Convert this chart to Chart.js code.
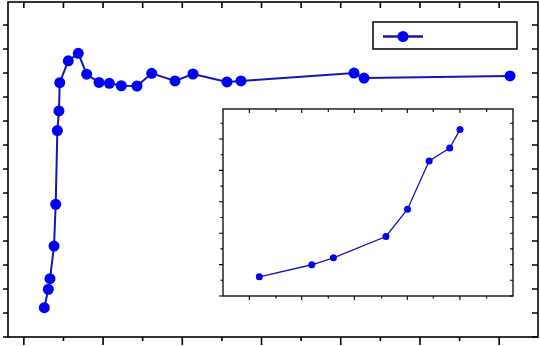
<!DOCTYPE html>
<html>
<head>
<meta charset="utf-8">
<script src="https://cdn.jsdelivr.net/npm/chart.js@4/dist/chart.umd.min.js"></script>
<style>
    html, body { margin: 0; padding: 0; background: #fff; }
    #wrap { position: relative; width: 540px; height: 346px; }
    #main { position: absolute; left: 0; top: 0; }
    #inset { position: absolute; left: 213px; top: 103px; }
</style>
</head>
<body>
<div id="wrap">
    <canvas id="main" width="540" height="346"></canvas>
    <canvas id="inset" width="310" height="203"></canvas>
</div>
<script>
// series
const series_x = [2.58, 3.09, 3.30, 3.81, 4.02, 4.23, 4.43, 4.53, 5.61, 6.87, 7.93, 9.49,
    10.79, 12.30, 14.28, 16.14, 19.08, 21.35, 25.64, 27.41, 41.68, 42.94, 61.37];
const series_y = [1.22, 1.99, 2.43, 3.79, 5.53, 8.60, 9.42, 10.60, 11.51, 11.82, 10.95, 10.61,
    10.57, 10.47, 10.46, 10.99, 10.67, 10.96, 10.63, 10.67, 11.00, 10.79, 10.88];

// the inset zooms on the first points of the same series
const inset_count = 8;

// tick values (no labels are printed)
const main_x_ticks = [0, 5, 10, 15, 20, 25, 30, 35, 40, 45, 50, 55, 60];
const main_y_ticks = [0, 1, 2, 3, 4, 5, 6, 7, 8, 9, 10, 11, 12, 13];
const inset_x_ticks = [2.483, 2.742, 2.992, 3.250, 3.503, 3.770, 4.018, 4.270, 4.529, 4.789];
const inset_y_ticks = [0, 1, 2, 3, 4, 5, 6, 7, 8, 9, 10, 11];

const line_colour = '#1616b4';
const point_colour = '#0000f5';

function points(n) {
    return series_x.slice(0, n).map((x, i) => ({ x: x, y: series_y[i] }));
}

// draws the box round the plot and the Origin style ticks
const framePlugin = {
    id: 'frame',
    beforeDraw(chart, args, o) {
        if (!o.fill) return;
        const a = chart.chartArea, ctx = chart.ctx;
        ctx.save();
        ctx.fillStyle = '#fff';
        ctx.fillRect(a.left, a.top, a.right - a.left, a.bottom - a.top);
        ctx.restore();
    },
    afterDatasetsDraw(chart, args, o) {
        const ctx = chart.ctx, a = chart.chartArea;
        const xs = chart.scales.x, ys = chart.scales.y;
        ctx.save();
        ctx.strokeStyle = '#000';
        ctx.lineWidth = o.tick_width;
        ctx.beginPath();
        o.x_ticks.forEach((v, i) => {
            const px = xs.getPixelForValue(v);
            const major = o.x_major(v, i);
            ctx.moveTo(px, a.bottom);
            ctx.lineTo(px, a.bottom + (major ? o.bottom[0] : o.bottom[1]));
            ctx.moveTo(px, a.top);
            ctx.lineTo(px, a.top + (major ? o.top[0] : o.top[1]));
        });
        o.y_ticks.forEach((v, i) => {
            const py = ys.getPixelForValue(v);
            const major = o.y_major(v, i);
            ctx.moveTo(a.left, py);
            ctx.lineTo(a.left - (major ? o.left[0] : o.left[1]), py);
            ctx.moveTo(a.right, py);
            ctx.lineTo(a.right - (major ? o.right[0] : o.right[1]), py);
        });
        ctx.stroke();
        ctx.lineWidth = o.frame_width;
        ctx.strokeRect(a.left, a.top, a.right - a.left, a.bottom - a.top);
        ctx.restore();
    }
};

// legend box with an empty label: line + marker sample
const legendBoxPlugin = {
    id: 'legendBox',
    afterDraw(chart, args, o) {
        const ctx = chart.ctx, ds = chart.data.datasets[0];
        ctx.save();
        ctx.strokeStyle = '#000';
        ctx.lineWidth = 1.5;
        ctx.strokeRect(o.left, o.top, o.width, o.height);
        ctx.strokeStyle = ds.borderColor;
        ctx.lineWidth = 2.5;
        ctx.beginPath();
        ctx.moveTo(o.left + 10, o.top + o.height / 2 + 1);
        ctx.lineTo(o.left + 50, o.top + o.height / 2 + 1);
        ctx.stroke();
        ctx.fillStyle = ds.pointBackgroundColor;
        ctx.beginPath();
        ctx.arc(o.left + 30, o.top + o.height / 2 + 1, ds.pointRadius, 0, Math.PI * 2);
        ctx.fill();
        ctx.restore();
    }
};

new Chart(document.getElementById('main'), {
    type: 'scatter',
    data: {
        datasets: [{
            label: '',
            data: points(series_x.length),
            showLine: true,
            borderColor: line_colour,
            borderWidth: 2,
            pointRadius: 5.5,
            pointBackgroundColor: point_colour,
            pointBorderColor: point_colour,
            pointBorderWidth: 0,
        }]
    },
    options: {
        responsive: false,
        animation: false,
        devicePixelRatio: 1,
        layout: { autoPadding: false, padding: { left: 8, top: 2, right: 2, bottom: 9 } },
        scales: {
            x: { type: 'linear', display: false, min: -2, max: 64.9 },
            y: { type: 'linear', display: false, min: 0, max: 13.96 },
        },
        plugins: {
            legend: { display: false },
            tooltip: { enabled: false },
            frame: {
                frame_width: 1.6,
                tick_width: 1.6,
                x_ticks: main_x_ticks,
                y_ticks: main_y_ticks,
                x_major: v => v % 10 === 0,
                y_major: () => true,
                bottom: [8, 4],
                top: [6, 6],
                left: [5, 5],
                right: [6, 6],
            },
            legendBox: { left: 373, top: 22, width: 144, height: 27 },
        }
    },
    plugins: [framePlugin, legendBoxPlugin]
});

new Chart(document.getElementById('inset'), {
    type: 'scatter',
    data: {
        datasets: [{
            data: points(inset_count),
            showLine: true,
            borderColor: line_colour,
            borderWidth: 1.3,
            pointRadius: 3.5,
            pointBackgroundColor: point_colour,
            pointBorderColor: point_colour,
            pointBorderWidth: 0,
        }]
    },
    options: {
        responsive: false,
        animation: false,
        devicePixelRatio: 1,
        layout: { autoPadding: false, padding: { left: 10, top: 6, right: 10, bottom: 10 } },
        scales: {
            x: { type: 'linear', display: false, min: 2.227, max: 5.045 },
            y: { type: 'linear', display: false, min: 0, max: 11.91 },
        },
        plugins: {
            legend: { display: false },
            tooltip: { enabled: false },
            frame: {
                fill: true,
                frame_width: 1.3,
                tick_width: 1.1,
                x_ticks: inset_x_ticks,
                y_ticks: inset_y_ticks,
                x_major: (v, i) => i % 2 === 0,
                y_major: v => v % 2 === 0,
                bottom: [4, 2.5],
                top: [4, 3],
                left: [4, 2.5],
                right: [3, 3],
            },
        }
    },
    plugins: [framePlugin]
});
</script>
</body>
</html>
